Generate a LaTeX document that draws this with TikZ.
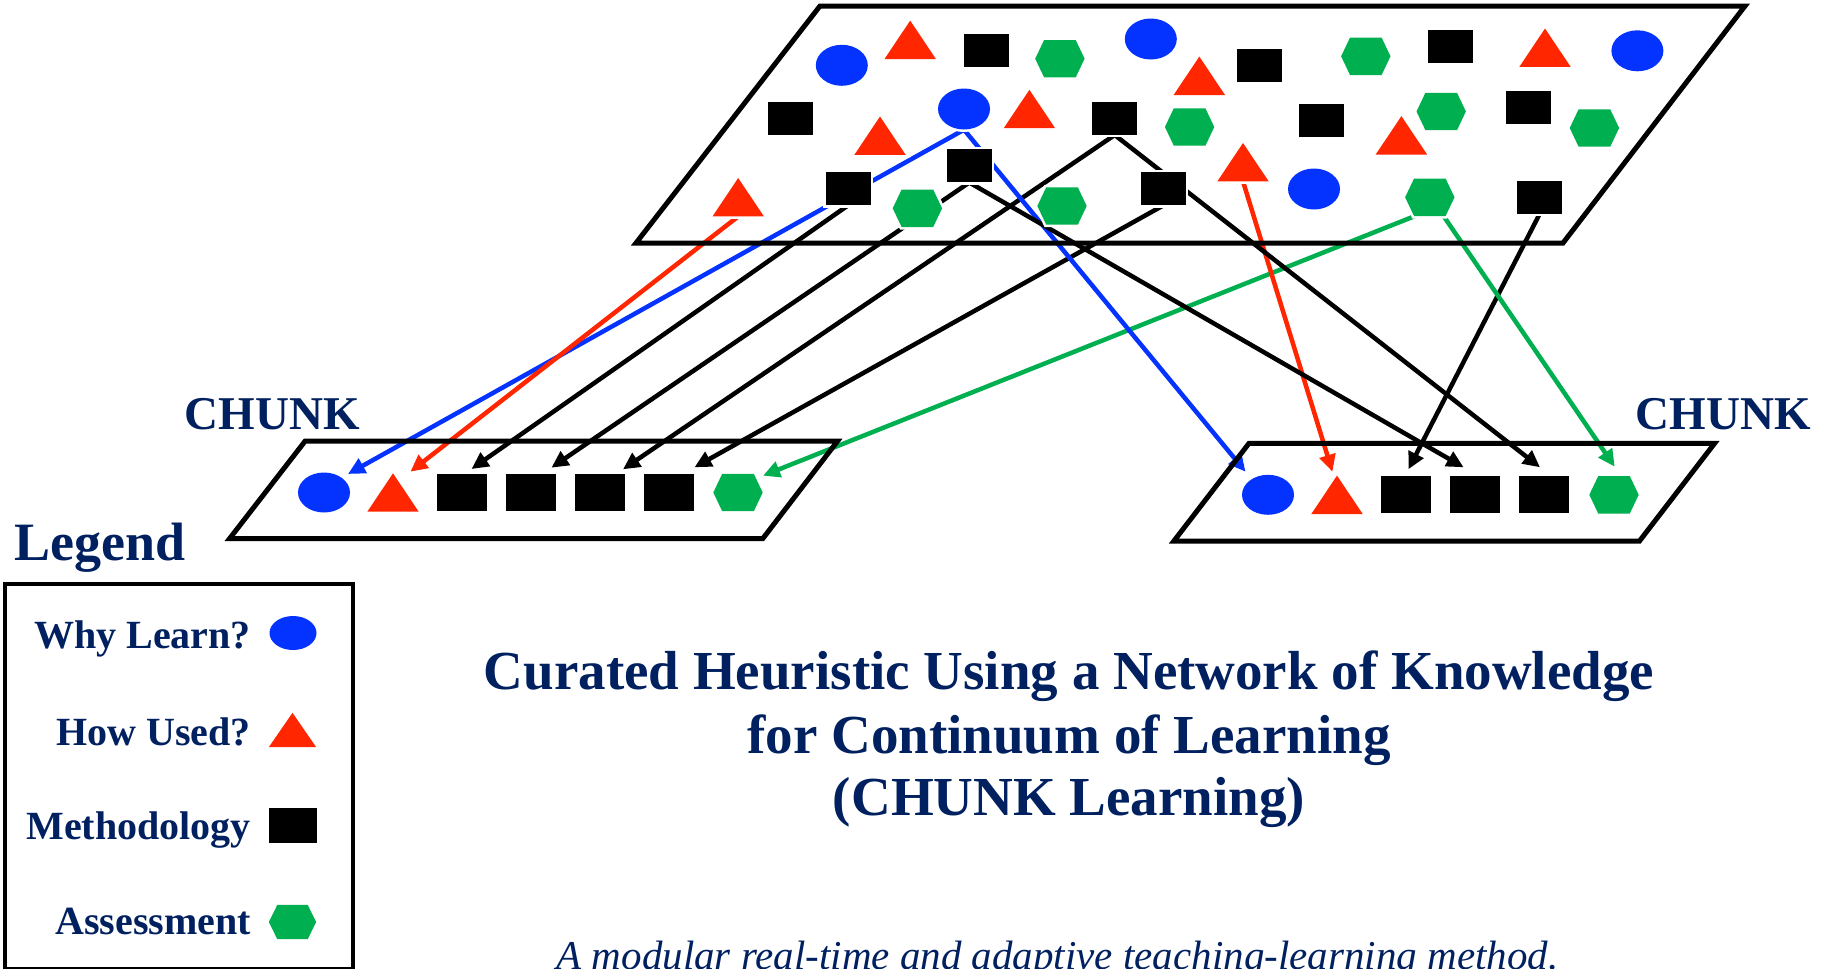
\documentclass[tikz,border=0pt]{standalone}
\usepackage{fontspec}
\setmainfont{Liberation Serif}
\usetikzlibrary{arrows.meta,calc,backgrounds,shapes.geometric}
\definecolor{cblue}{RGB}{4,51,255}
\definecolor{cred}{RGB}{255,38,0}
\definecolor{cgreen}{RGB}{0,176,80}
\definecolor{navy}{RGB}{0,32,96}
\begin{document}
\begin{tikzpicture}[x=1pt,y=-1pt,
  halo/.style={preaction={draw=white,line width=5pt}},
  ell/.style={ellipse,fill=cblue,inner sep=0,minimum width=52pt,minimum height=41pt},
  sq/.style={rectangle,fill=black,inner sep=0,minimum width=45pt,minimum height=33pt},
  bsq/.style={sq,minimum width=50pt,minimum height=37pt},
  tribox/.style={inner sep=0,minimum width=51pt,minimum height=38pt},
  hexbox/.style={inner sep=0,minimum width=49pt,minimum height=37pt},
  plane/.style={line width=5pt,line join=miter},
  conn/.style={line width=4.5pt,-{Triangle[length=17pt,width=16pt]}},
  txt/.style={text=navy,inner sep=0},
  legtxt/.style={txt,anchor=base east,font=\bfseries\fontsize{40}{48}\selectfont},
  titletxt/.style={txt,anchor=base,font=\bfseries\fontsize{55}{63}\selectfont},
  chunktxt/.style={txt,font=\bfseries\fontsize{47}{56}\selectfont}
]
\useasboundingbox (0,0) rectangle (1831,969);

% planes
\draw[plane] (820,6) -- (1745,6) -- (1563,243) -- (636,243) -- cycle;
\draw[plane] (305.2,441) -- (837.6,441) -- (762.7,538.7) -- (229.5,538.7) -- cycle;
\draw[plane] (1249,443.3) -- (1714.6,443.3) -- (1639.5,541) -- (1173.9,541) -- cycle;

% top plane: ellipses
\node[ell,halo] (E1) at (841.8,65.3) {};
\node[ell,halo] (E2) at (1150.8,39) {};
\node[ell,halo] (E3) at (964,109) {};
\node[ell,halo] (E4) at (1314,189) {};
\node[ell,halo] (E5) at (1637.4,50.8) {};
% squares
\node[sq,halo] (S1) at (986.7,50.8) {};
\node[sq,halo] (S2) at (790.4,118.3) {};
\node[sq,halo] (S3) at (1114.7,118.3) {};
\node[sq,halo] (S4) at (969.3,165.8) {};
\node[sq,halo] (S5) at (848,188.7) {};
\node[sq,halo] (S6) at (1163.3,188.7) {};
\node[sq,halo] (S7) at (1259.8,65.3) {};
\node[sq,halo] (S8) at (1450.3,46.5) {};
\node[sq,halo] (S9) at (1321.5,120.3) {};
\node[sq,halo] (S10) at (1528.6,107.2) {};
\node[sq,halo] (S11) at (1539.6,197.3) {};
% triangles (boxes)
\node[tribox] (T1) at (910.2,39.8) {};
\node[tribox] (T2) at (1199.3,75.8) {};
\node[tribox] (T3) at (880,135.7) {};
\node[tribox] (T4) at (1029.4,109) {};
\node[tribox] (T5) at (738.2,197.2) {};
\node[tribox] (T6) at (1545,47.7) {};
\node[tribox] (T7) at (1401.4,135.3) {};
\node[tribox] (T8) at (1243,162.2) {};
% hexagons (boxes)
\node[hexbox] (H1) at (1059.9,58.7) {};
\node[hexbox] (H2) at (1189.6,127) {};
\node[hexbox] (H3) at (917.4,208.3) {};
\node[hexbox] (H4) at (1062,206) {};
\node[hexbox] (H5) at (1365.8,56.3) {};
\node[hexbox] (H6) at (1441.2,111.5) {};
\node[hexbox] (H7) at (1594.4,128) {};
\node[hexbox] (H8) at (1429.8,197.3) {};

% left chunk
\node[ell,minimum height=40pt] (LE) at (324,492.5) {};
\node[tribox] (LT) at (393,492.5) {};
\node[bsq] (LS1) at (462,492.5) {};
\node[bsq] (LS2) at (531,492.5) {};
\node[bsq] (LS3) at (600,492.5) {};
\node[bsq] (LS4) at (669,492.5) {};
\node[hexbox] (LH) at (738,492.5) {};
% right chunk
\node[ell,minimum height=40pt] (RE) at (1268,494.8) {};
\node[tribox] (RT) at (1337,494.8) {};
\node[bsq] (RS1) at (1406,494.8) {};
\node[bsq] (RS2) at (1475,494.8) {};
\node[bsq] (RS3) at (1544,494.8) {};
\node[hexbox] (RH) at (1614,494.8) {};

% legend shapes
\node[ell,minimum width=47pt,minimum height=34pt] (LgE) at (293,633) {};
\node[tribox,minimum width=47pt,minimum height=34pt] (LgT) at (292.5,730) {};
\node[sq,minimum width=48pt,minimum height=35pt] (LgS) at (293,825.5) {};
\node[hexbox,minimum width=47pt,minimum height=34pt] (LgH) at (292.5,922) {};

% draw triangles
\foreach \n in {T1,T2,T3,T4,T5,T6,T7,T8}
  \fill[cred,halo] (\n.south west) -- (\n.south east) -- (\n.north) -- cycle;
\foreach \n in {LT,RT,LgT}
  \fill[cred] (\n.south west) -- (\n.south east) -- (\n.north) -- cycle;
% draw hexagons
\foreach \n in {H1,H2,H3,H4,H5,H6,H7,H8}
  \fill[cgreen,halo] (\n.west) -- ($(\n.north west)!0.18!(\n.north east)$) -- ($(\n.north west)!0.82!(\n.north east)$) -- (\n.east) -- ($(\n.south west)!0.82!(\n.south east)$) -- ($(\n.south west)!0.18!(\n.south east)$) -- cycle;
\foreach \n in {LH,RH,LgH}
  \fill[cgreen] (\n.west) -- ($(\n.north west)!0.18!(\n.north east)$) -- ($(\n.north west)!0.82!(\n.north east)$) -- (\n.east) -- ($(\n.south west)!0.82!(\n.south east)$) -- ($(\n.south west)!0.18!(\n.south east)$) -- cycle;

% connectors
\begin{scope}[on background layer]
\draw[conn,cblue] (E3.south) -- ($(LE.center)+(24,-18.5)$);
\draw[conn,cred] (T5.south) -- ($(LT.center)+(17.4,-20.8)$);
\draw[conn] (S5.south) -- ($(LS1.center)+(9.5,-23.5)$);
\draw[conn] (S4.south) -- ($(LS2.center)+(20.4,-24.8)$);
\draw[conn] (S3.south) -- ($(LS3.center)+(23,-23.2)$);
\draw[conn] (S6.south) -- ($(LS4.center)+(25.5,-25.2)$);
\draw[conn,cgreen] ($(H8.south)+(-14.8,0)$) -- ($(LH.center)+(25,-16.8)$);
\draw[conn,cblue] (E3.south) -- ($(RE.center)+(-22.5,-23.1)$);
\draw[conn,cred] (T8.south) -- ($(RT.center)+(-4.6,-23.1)$);
\draw[conn] (S11.south) -- ($(RS1.center)+(2.4,-25.5)$);
\draw[conn] (S4.south) -- ($(RS2.center)+(-11.4,-27.5)$);
\draw[conn] (S3.south) -- ($(RS3.center)+(-4,-27.5)$);
\draw[conn,cgreen] ($(H8.south)+(13.7,0)$) -- ($(RH.center)+(0.7,-28.1)$);
\end{scope}

% texts
\node[chunktxt,anchor=base west] (chunkL) at (184.5,429) {CHUNK};
\node[chunktxt,anchor=base east] (chunkR) at (1811,429) {CHUNK};
\node[txt,anchor=base west,font=\bfseries\fontsize{54}{64}\selectfont] (legend) at (14,560) {Legend};
\node[draw,line width=4pt,inner sep=0,minimum width=348pt,minimum height=385pt,anchor=north west] (legbox) at (3,582) {};
\node[legtxt] (lw) at (251,648) {Why Learn?};
\node[legtxt] (lh) at (251,745) {How Used?};
\node[legtxt] (lm) at (251,839) {Methodology};
\node[legtxt] (la) at (251,934) {Assessment};

\node[titletxt] (t1) at (1069,689) {Curated Heuristic Using a Network of Knowledge};
\node[titletxt] (t2) at (1069,753) {for Continuum of Learning};
\node[titletxt] (t3) at (1069,815) {(CHUNK Learning)};
\node[txt,anchor=base,font=\itshape\fontsize{41}{48}\selectfont] (sub) at (1057.5,969) {A modular real-time and adaptive teaching-learning method.};
\end{tikzpicture}
\end{document}
